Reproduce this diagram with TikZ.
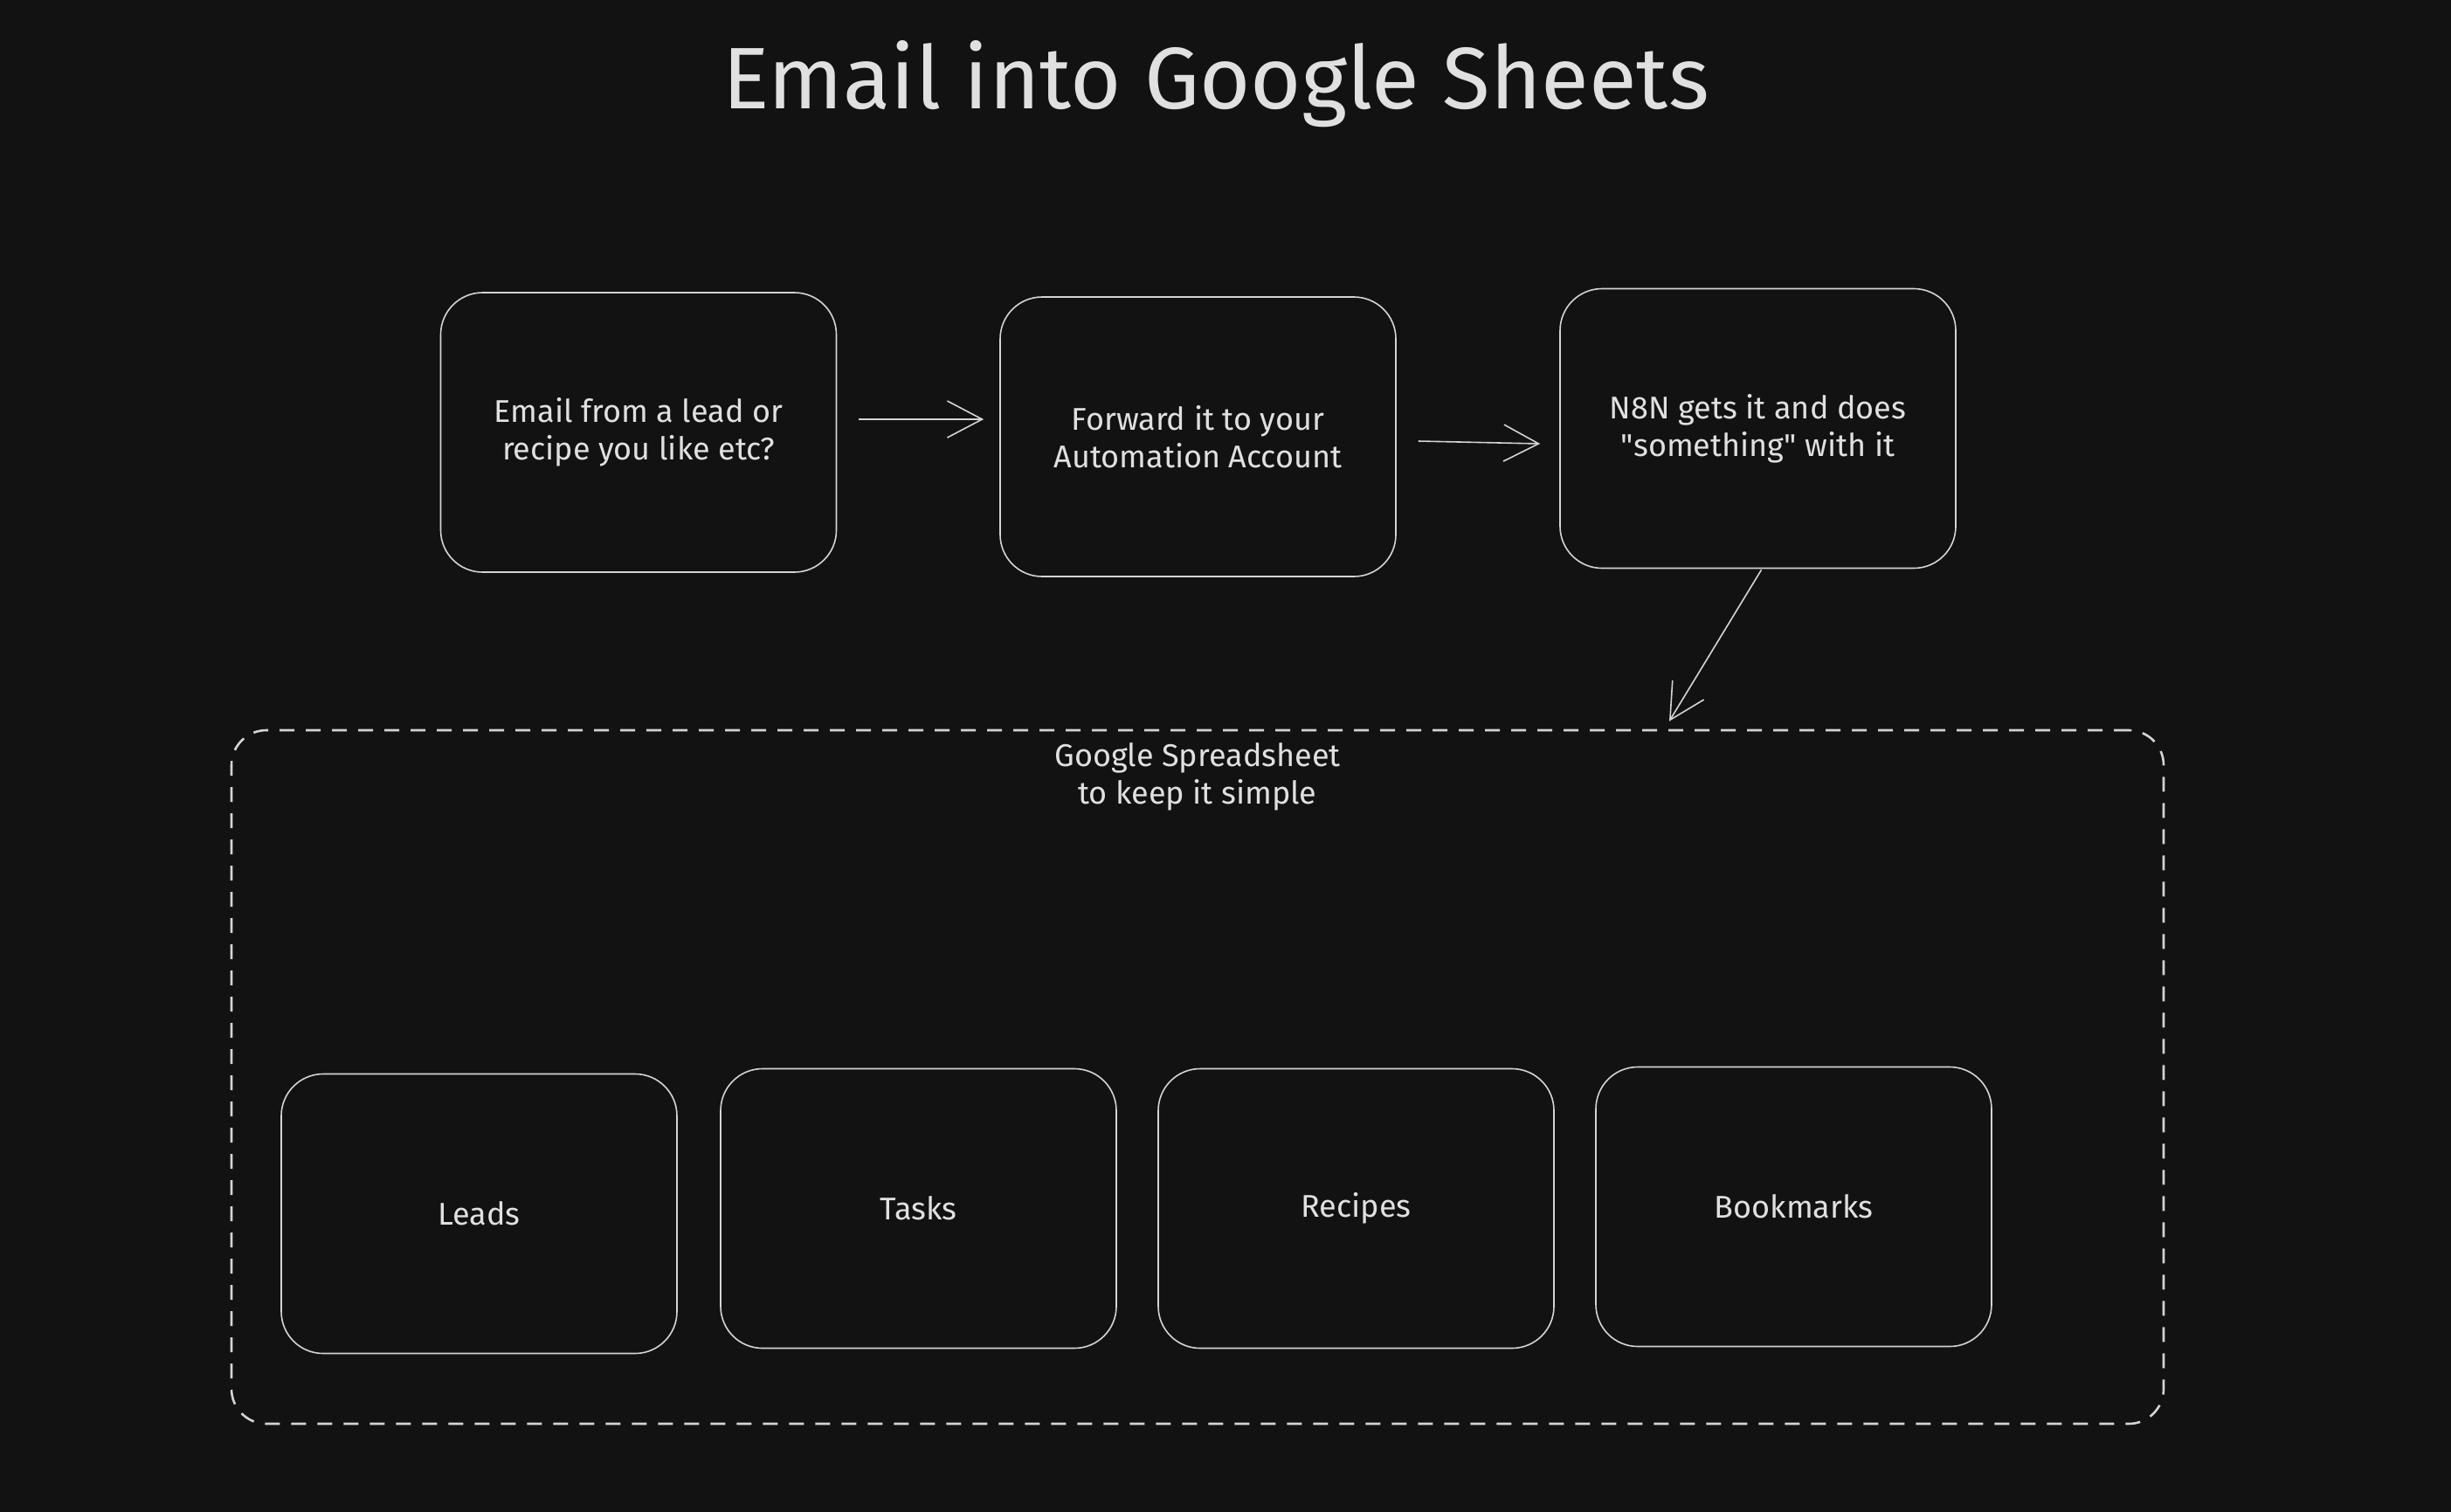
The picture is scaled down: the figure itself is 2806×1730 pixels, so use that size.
\documentclass[tikz,border=0pt]{standalone}
\usepackage{fontspec}
\setmainfont{Fira Sans}
\usetikzlibrary{arrows.meta}
\definecolor{bg}{HTML}{121212}
\definecolor{fg}{HTML}{E0E0E0}
\definecolor{ln}{HTML}{D4D4D4}
\tikzset{
  box/.style={draw=ln, line width=1.6pt, rounded corners=48pt, fill=bg,
    minimum width=453pt, minimum height=320pt, align=center,
    text=fg, font=\fontsize{36}{43}\selectfont},
  group/.style={draw=ln, line width=2.6pt, rounded corners=40pt,
    dash pattern=on 17pt off 13pt, minimum width=2212pt, minimum height=794pt},
  arr/.style={draw=ln, line width=1.6pt, -{Straight Barb[length=40pt,width=42pt,line width=1.6pt]}},
  lbl/.style={text=fg, align=center, font=\fontsize{36}{43}\selectfont},
  ttl/.style={text=fg, font=\fontsize{100}{115}\selectfont}
}
\begin{document}
\begin{tikzpicture}[x=1pt,y=-1pt]
\useasboundingbox (0,0) rectangle (2806,1730);
\fill[bg] (-10,-10) rectangle (2816,1740);

\node[ttl] (title) at (1392,96) {Email into Google Sheets};

\node[box] (b1) at (731,495) {Email from a lead or\\recipe you like etc?};
\node[box] (b2) at (1371.5,500) {Forward it to your\\Automation Account};
\node[box] (b3) at (2012.5,490.5) {N8N gets it and does\\\textquotedbl something\textquotedbl{} with it};

\node[group] (cont) at (1371,1233) {};
\node[lbl] (contlabel) at (1371,889) {Google Spreadsheet\\to keep it simple};

\node[box] (leads) at (548.5,1389.5) {Leads};
\node[box] (tasks) at (1051.5,1383.5) {Tasks};
\node[box] (recipes) at (1552.5,1383.5) {Recipes};
\node[box] (bookmarks) at (2053.5,1381.5) {Bookmarks};

\draw[arr] ([xshift=25pt,yshift=15pt]b1.east) -- ([xshift=-18pt,yshift=20pt]b2.west);
\draw[arr] ([xshift=25pt,yshift=-5pt]b2.east) -- ([xshift=-22pt,yshift=-17.5pt]b3.west);
\draw[arr] ([xshift=4pt,yshift=-1pt]b3.south) -- ([xshift=540pt,yshift=9pt]cont.north);
\end{tikzpicture}
\end{document}
